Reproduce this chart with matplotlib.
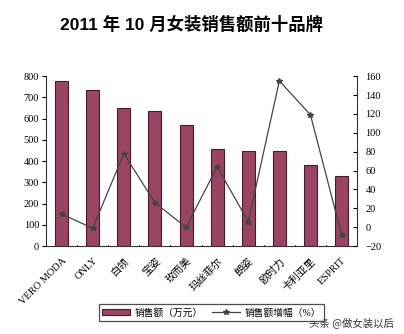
import numpy as np
import matplotlib.pyplot as plt

plt.rcParams['font.family'] = ['Liberation Serif', 'Noto Sans CJK SC']

brands = ['VERO MODA', 'ONLY', '白领', '宝姿', '玫而美', '玛丝菲尔', '朗姿', '欧时力', '卡利亚里', 'ESPRIT']
sales = [775, 733, 650, 636, 568, 456, 448, 448, 380, 330]
growth = [14, -1, 78, 26, 0, 64, 6, 155, 119, -8]

fig = plt.figure(figsize=(4.04, 3.34), dpi=100)
ax = fig.add_axes([0.114, 0.263, 0.77, 0.509])
x = np.arange(len(brands))

bars = ax.bar(x, sales, width=0.42, color='#9a4466', edgecolor='#4a1a2c', linewidth=0.8,
              label='销售额（万元）')
ax.set_xlim(-0.5, len(brands) - 0.5)
ax.set_ylim(0, 800)
ax.set_yticks(range(0, 801, 100))
ax.tick_params(axis='y', direction='out', length=3, labelsize=7.5, pad=2)
ax.set_xticks(x)
ax.set_xticklabels(brands, rotation=45, ha='right', rotation_mode='anchor', fontsize=7.5)
ax.tick_params(axis='x', length=0, pad=7)
for b in np.arange(0.5, len(brands) - 0.5, 1):
    ax.plot([b, b], [0, 6], color='#333333', lw=0.7)
ax.spines['top'].set_visible(False)
ax.spines['right'].set_visible(False)
ax.spines['left'].set_color('#333333')
ax.spines['bottom'].set_color('#333333')

ax2 = ax.twinx()
line, = ax2.plot(x, growth, color='#444444', lw=0.9, marker='*', markersize=4,
                 label='销售额增幅（%）')
ax2.set_ylim(-20, 160)
ax2.set_yticks(range(-20, 161, 20))
ax2.tick_params(axis='y', direction='in', length=3, labelsize=7.5, pad=6)
ax2.spines['top'].set_visible(False)
ax2.spines['left'].set_visible(False)
ax2.spines['bottom'].set_visible(False)
ax2.spines['right'].set_color('#333333')

fig.text(0.473, 0.928, '2011 年 10 月女装销售额前十品牌', ha='center', va='center',
         fontsize=12.5, fontweight='bold', family=['Liberation Sans', 'Noto Sans CJK SC'])

leg = fig.legend([bars, line], ['销售额（万元）', '销售额增幅（%）'], loc='center',
                 bbox_to_anchor=(0.524, 0.064), ncol=2, fontsize=7, frameon=True,
                 fancybox=False, edgecolor='#222222', handlelength=2.8, handletextpad=0.5,
                 columnspacing=1.0, borderpad=0.35)
leg.get_frame().set_linewidth(0.9)

fig.text(0.975, 0.03, '头条 @做女装以后', ha='right', va='center', fontsize=7.5,
         color='#333333', family=['Noto Sans CJK SC'])

fig.savefig('out.png', dpi=100)
